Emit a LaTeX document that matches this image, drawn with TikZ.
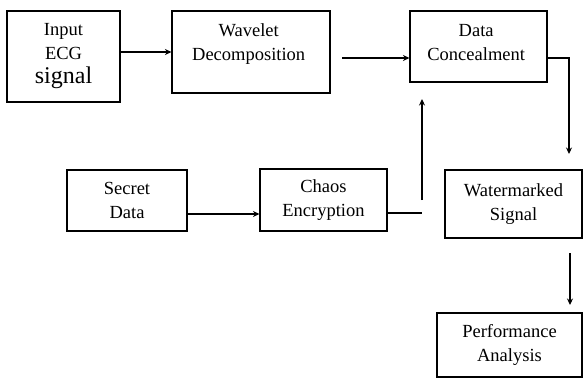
\documentclass[tikz,border=0pt]{standalone}
\usepackage{fontspec}
\setmainfont{Liberation Serif}
\usetikzlibrary{arrows.meta,positioning}

\newcommand{\toptext}[3]{\parbox[c][#2][t]{#1}{\centering\rule{0pt}{24pt}#3}}

\begin{document}
\begin{tikzpicture}[
    x=1pt, y=-1pt,
    block/.style={rectangle, draw=black, line width=1.1pt, inner sep=0pt, align=center, font=\fontsize{18.5}{24}\selectfont},
    arrow/.style={-{Stealth[length=6.5pt, width=6pt]}, line width=1.1pt},
    link/.style={line width=1.1pt}
]
    \useasboundingbox (0,0) rectangle (583,381);

    % Top row
    \node[block, minimum width=113pt, minimum height=91pt] (input) at (63.5,56.5) {
        Input\\
        ECG\\
        {\fontsize{24}{26}\selectfont signal}
    };
    \node[block, minimum width=158pt, minimum height=82pt] (wavelet) at (251,52) {
        \toptext{150pt}{80pt}{Wavelet\\Decomposition}
    };
    \node[block, minimum width=137pt, minimum height=71pt] (data) at (478.5,46.5) {
        \toptext{130pt}{69pt}{Data\\Concealment}
    };

    % Middle row
    \node[block, minimum width=120pt, minimum height=61pt] (secret) at (127,200.5) {
        Secret\\
        Data
    };
    \node[block, minimum width=127pt, minimum height=62pt] (chaos) at (323.5,200) {
        Chaos\\
        Encryption
    };
    \node[block, minimum width=137pt, minimum height=68pt] (water) at (513.5,204) {
        Watermarked\\
        Signal
    };

    % Bottom
    \node[block, minimum width=145pt, minimum height=64pt] (perf) at (509.5,345) {
        Performance\\
        Analysis
    };

    % Free ends of the connectors
    \coordinate (w2d) at (342,58);
    \coordinate (d2w) at (569,154);
    \coordinate (s2c) at (187,214);
    \coordinate (c2d) at (422,213);
    \coordinate (up1) at (422,200);
    \coordinate (up2) at (422,99);
    \coordinate (w2p) at (570,253);
    \coordinate (p2w) at (570,305);

    % Arrows
    \draw[arrow] (input.east |- wavelet.center) -- (wavelet.west);
    \draw[arrow] (w2d) -- (w2d -| data.west);
    \draw[arrow] (data.east |- w2d) -| (d2w);
    \draw[arrow] (s2c) -- (s2c -| chaos.west);
    \draw[link] (chaos.east |- c2d) -- (c2d);
    \draw[arrow] (up1) -- (up2);
    \draw[arrow] (w2p) -- (p2w);
\end{tikzpicture}
\end{document}
